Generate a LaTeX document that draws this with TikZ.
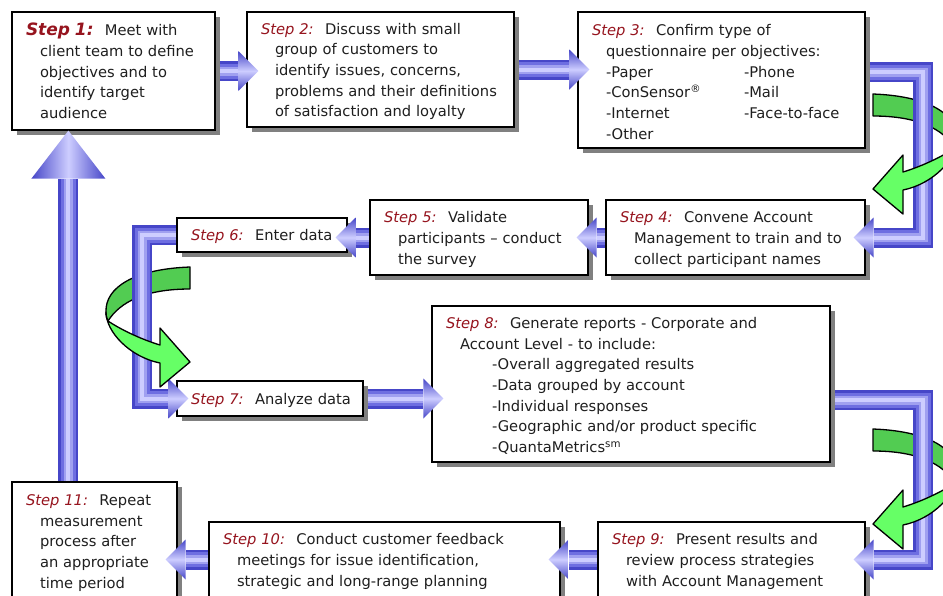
\documentclass[tikz,border=0pt]{standalone}
\usepackage{fontspec}
\setmainfont{DejaVu Sans}
\usetikzlibrary{calc,shadows,backgrounds}
\definecolor{stepred}{RGB}{150,20,30}
\definecolor{pipeD}{RGB}{70,70,200}
\definecolor{pipeM}{RGB}{110,110,225}
\definecolor{pipeL}{RGB}{160,160,240}
\definecolor{pipeW}{RGB}{205,205,255}
\definecolor{grD}{RGB}{82,204,82}
\definecolor{grL}{RGB}{102,255,102}
\newcommand{\stp}[1]{\rule{0pt}{15pt}\textcolor{stepred}{\itshape #1}\hspace{4pt}}
\newcommand{\ind}{\hspace*{14pt}}
\begin{document}
\begin{tikzpicture}[x=1pt,y=-1pt,line join=miter,
	headR/.pic={\shade[top color=pipeD,bottom color=pipeD,middle color=pipeW] (0,0) -- (-20,-20) -- (-20,20) -- cycle;},
	headL/.pic={\shade[top color=pipeD,bottom color=pipeD,middle color=pipeW] (0,0) -- (20,-20) -- (20,20) -- cycle;},
	headU/.pic={\shade[left color=pipeD,right color=pipeD,middle color=pipeW] (0,0) -- (-37,48) -- (37,48) -- cycle;},
	twistback/.pic={\filldraw[fill=grD,line width=1.3pt,line join=round] (0,0) .. controls (55,2) and (85,20) .. (84,45) .. controls (84,50) and (83,52) .. (82,54) .. controls (70,35) and (45,22) .. (0,22) -- cycle;},
	twistfront/.pic={\filldraw[fill=grL,line width=1.3pt,line join=round] (82,54) .. controls (70,62) and (50,72) .. (30,78) -- (30,61) -- (0,95) -- (30,120) -- (30,96) .. controls (60,90) and (84,65) .. (84,45) .. controls (84,50) and (83,52) .. (82,54) -- cycle;}]
	\tikzstyle{stepbox}=[draw=black,line width=1.2pt,fill=white,align=left,inner xsep=14pt,inner ysep=4pt,text=black!88,font=\fontsize{14.7}{20.7}\selectfont,drop shadow={shadow xshift=5pt,shadow yshift=-5pt,fill=black!50,opacity=1}]
	\useasboundingbox (0,0) rectangle (943,595);
	\clip (0,0) rectangle (943,595);
	% steps
	\node[stepbox,text width=175pt,minimum height=118pt] (s1) at (113.5,71) {{\fontsize{17}{20.7}\selectfont\bfseries\itshape\color{stepred}Step 1:}\hspace{4pt} Meet with\\ \ind client team to define\\ \ind objectives and to\\ \ind identify target\\ \ind audience};
	\node[stepbox,text width=239pt,minimum height=115pt] (s2) at (380.5,69.5) {\stp{Step 2:} Discuss with small\\ \ind group of customers to\\ \ind identify issues, concerns,\\ \ind problems and their definitions\\ \ind of satisfaction and loyalty};
	\node[stepbox,text width=259pt,minimum height=136pt] (s3) at (721.5,80) {\stp{Step 3:} Confirm type of\\ \ind questionnaire per objectives:\\ \ind\mbox{\makebox[138pt][l]{-Paper}-Phone}\\ \ind\mbox{\makebox[138pt][l]{-ConSensor\textsuperscript{®}}-Mail}\\ \ind\mbox{\makebox[138pt][l]{-Internet}-Face-to-face}\\ \ind -Other};
	\node[stepbox,text width=231pt,minimum height=75pt] (s4) at (735.5,237.5) {\stp{Step 4:} Convene Account\\ \ind Management to train and to\\ \ind collect participant names};
	\node[stepbox,text width=190pt,minimum height=75pt] (s5) at (479,237.5) {\stp{Step 5:} Validate\\ \ind participants -- conduct\\ \ind the survey};
	\node[stepbox,text width=142pt,minimum height=34pt] (s6) at (262,235) {\mbox{\stp{Step 6:} Enter data}};
	\node[stepbox,text width=158pt,minimum height=35pt] (s7) at (270,398.5) {\mbox{\stp{Step 7:} Analyze data}};
	\node[stepbox,text width=370pt,minimum height=156pt] (s8) at (631,384) {\stp{Step 8:} Generate reports - Corporate and\\ \ind Account Level - to include:\\ \hspace*{46pt}-Overall aggregated results\\ \hspace*{46pt}-Data grouped by account\\ \hspace*{46pt}-Individual responses\\ \hspace*{46pt}-Geographic and/or product specific\\ \hspace*{46pt}-QuantaMetrics\textsuperscript{sm}};
	\node[stepbox,text width=239pt,minimum height=75pt] (s9) at (731.5,559.5) {\stp{Step 9:} Present results and\\ \ind review process strategies\\ \ind with Account Management};
	\node[stepbox,text width=323pt,minimum height=75pt] (s10) at (384.5,559.5) {\stp{Step 10:} Conduct customer feedback\\ \ind meetings for issue identification,\\ \ind strategic and long-range planning};
	\node[stepbox,text width=137pt,minimum height=118pt] (s11) at (94.5,541) {\stp{Step 11:} Repeat\\ \ind measurement\\ \ind process after\\ \ind an appropriate\\ \ind time period};
	\coordinate (rx) at (923,0);
	\coordinate (lx) at (142,0);
	% pipes behind the boxes
	\begin{scope}[on background layer]
		\clip (0,0) rectangle (943,595);
		\pic at (873,94) {twistback};
		\pic at (873,429) {twistback};
		\pic[xscale=-1] at (190,267) {twistback};
		\foreach \w/\c in {20/pipeD,15/pipeM,9/pipeL,4/pipeW} {
			\draw[line width=\w pt,\c] (s1.east) -- ($(s2.west |- s1.east)+(-8,0)$);
			\draw[line width=\w pt,\c] (s2.east) -- ($(s3.west |- s2.east)+(-8,0)$);
			\draw[line width=\w pt,\c] ($(s3.east)+(0,-8)$) -| (rx |- s4.east) -- ($(s4.east)+(8,0)$);
			\draw[line width=\w pt,\c] (s4.west) -- ($(s5.east)+(8,0)$);
			\draw[line width=\w pt,\c] (s5.west) -- ($(s6.east |- s5.west)+(8,0)$);
			\draw[line width=\w pt,\c] (s6.west) -| (lx |- s7.west) -- ($(s7.west)+(-8,0)$);
			\draw[line width=\w pt,\c] (s7.east) -- ($(s8.west |- s7.east)+(-8,0)$);
			\draw[line width=\w pt,\c] ($(s8.east)+(0,16)$) -| (rx |- s9.east) -- ($(s9.east)+(8,0)$);
			\draw[line width=\w pt,\c] (s9.west) -- ($(s10.east)+(8,0)$);
			\draw[line width=\w pt,\c] (s10.west) -- ($(s11.east |- s10.west)+(8,0)$);
			\draw[line width=\w pt,\c] ($(s11.north west)+(57,0)$) -- ($(s1.south west)+(57,48)$);
		}
	\end{scope}
	% arrow heads
	\pic at ($(s2.west |- s1.east)+(12,0)$) {headR};
	\pic at ($(s3.west |- s2.east)+(12,0)$) {headR};
	\pic at ($(s4.east)+(-12,0)$) {headL};
	\pic at ($(s5.east)+(-12,0)$) {headL};
	\pic at ($(s6.east |- s5.west)+(-12,0)$) {headL};
	\pic at ($(s7.west)+(12,0)$) {headR};
	\pic at ($(s8.west |- s7.east)+(12,0)$) {headR};
	\pic at ($(s9.east)+(-12,0)$) {headL};
	\pic at ($(s10.east)+(-12,0)$) {headL};
	\pic at ($(s11.east |- s10.west)+(-12,0)$) {headL};
	\pic at ($(s1.south west)+(57,0)$) {headU};
	% green turns in front
	\pic at (873,94) {twistfront};
	\pic at (873,429) {twistfront};
	\pic[xscale=-1] at (190,267) {twistfront};
\end{tikzpicture}
\end{document}
